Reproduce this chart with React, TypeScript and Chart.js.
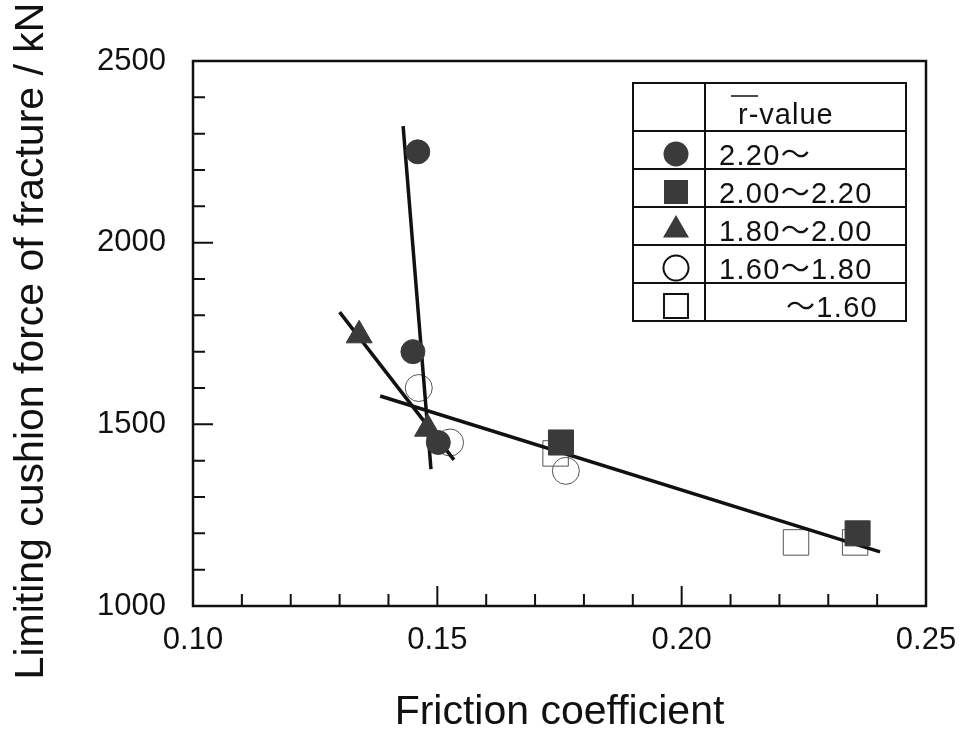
import React, { useEffect, useRef } from 'react';
import { Chart, registerables } from 'chart.js';

Chart.register(...registerables);

// ---- axes ----
const xMin = 0.10;
const xMax = 0.25;
const yMin = 1000;
const yMax = 2500;
const xTickValues = [0.10, 0.15, 0.20, 0.25];
const xTickLabels = ['0.10', '0.15', '0.20', '0.25'];
const yTickValues = [1000, 1500, 2000, 2500];
const yTickLabels = ['1000', '1500', '2000', '2500'];
const xMajorInner = [0.15, 0.20];
const xMinorInner = [0.11, 0.12, 0.13, 0.14, 0.16, 0.17, 0.18, 0.19, 0.21, 0.22, 0.23, 0.24];
const yMajorInner = [1500, 2000];
const yMinorInner = [1100, 1200, 1300, 1400, 1600, 1700, 1800, 1900, 2100, 2200, 2300, 2400];
const xTitle = 'Friction coefficient';
const yTitle = 'Limiting cushion force of fracture / kN';

// ---- data (r-value groups) ----
const filledCircleX = [0.146, 0.145, 0.1502];
const filledCircleY = [2250, 1700, 1450];
const filledSquareX = [0.1753, 0.236];
const filledSquareY = [1450, 1200];
const filledTriangleX = [0.134, 0.148];
const filledTriangleY = [1745, 1488];
const openCircleX = [0.1462, 0.1526, 0.1763];
const openCircleY = [1600, 1450, 1372];
const openSquareX = [0.1742, 0.2234, 0.2355];
const openSquareY = [1420, 1175, 1175];

// ---- fitted lines ----
const fitCircleX = [0.143, 0.1487];
const fitCircleY = [2321, 1377];
const fitTriangleX = [0.130, 0.1534];
const fitTriangleY = [1809, 1402];
const fitAllX = [0.1383, 0.2406];
const fitAllY = [1578, 1149];

// ---- legend ----
const legendHeader = 'r-value';
const legendLabels = ['2.20～', '2.00～2.20', '1.80～2.00', '1.60～1.80', '～1.60'];
const legendMarkers = ['filledCircle', 'filledSquare', 'filledTriangle', 'openCircle', 'openSquare'];

const FONT = "'Liberation Sans', Arial, Helvetica, 'Noto Sans CJK JP', sans-serif";
const DARK = '#3a3a3a';
const INK = '#111111';

const pts = (xs: number[], ys: number[]) => xs.map((x, i) => ({ x, y: ys[i] }));

function drawMarker(ctx: CanvasRenderingContext2D, kind: string, x: number, y: number) {
  ctx.save();
  ctx.beginPath();
  if (kind === 'filledCircle' || kind === 'openCircle') {
    ctx.arc(x, y, 12.5, 0, Math.PI * 2);
  } else if (kind === 'filledSquare' || kind === 'openSquare') {
    ctx.rect(x - 12, y - 12, 24, 24);
  } else {
    const r = 15;
    ctx.moveTo(x, y - r);
    ctx.lineTo(x + r * 0.866, y + r * 0.5);
    ctx.lineTo(x - r * 0.866, y + r * 0.5);
    ctx.closePath();
  }
  if (kind.startsWith('filled')) {
    ctx.fillStyle = DARK;
    ctx.fill();
  } else {
    ctx.lineWidth = 2;
    ctx.strokeStyle = INK;
    ctx.stroke();
  }
  ctx.restore();
}

const framePlugin = {
  id: 'frameAndLegend',
  afterDatasetsDraw(chart: any) {
    const { ctx, chartArea } = chart;
    const xs = chart.scales.x;
    const ys = chart.scales.y;
    const { left, right, top, bottom } = chartArea;
    ctx.save();
    ctx.strokeStyle = INK;
    ctx.lineWidth = 2.5;
    ctx.strokeRect(left, top, right - left, bottom - top);
    ctx.lineWidth = 2;
    ctx.beginPath();
    xMajorInner.forEach((v) => {
      const px = xs.getPixelForValue(v);
      ctx.moveTo(px, bottom);
      ctx.lineTo(px, bottom - 20);
    });
    xMinorInner.forEach((v) => {
      const px = xs.getPixelForValue(v);
      ctx.moveTo(px, bottom);
      ctx.lineTo(px, bottom - 12);
    });
    yMajorInner.forEach((v) => {
      const py = ys.getPixelForValue(v);
      ctx.moveTo(left, py);
      ctx.lineTo(left + 20, py);
    });
    yMinorInner.forEach((v) => {
      const py = ys.getPixelForValue(v);
      ctx.moveTo(left, py);
      ctx.lineTo(left + 12, py);
    });
    ctx.stroke();

    // y axis title
    ctx.save();
    ctx.translate(32, 341);
    ctx.rotate(-Math.PI / 2);
    ctx.font = `41px ${FONT}`;
    ctx.fillStyle = INK;
    ctx.textAlign = 'center';
    ctx.textBaseline = 'middle';
    ctx.fillText(yTitle, 0, 0);
    ctx.restore();

    // legend table
    const bx = 633, by = 83, bw = 273, headerH = 48, rowH = 38;
    const colX = 705;
    const bh = headerH + rowH * legendLabels.length;
    ctx.fillStyle = '#ffffff';
    ctx.fillRect(bx, by, bw, bh);
    ctx.lineWidth = 2;
    ctx.strokeStyle = INK;
    ctx.strokeRect(bx, by, bw, bh);
    ctx.beginPath();
    ctx.moveTo(colX, by);
    ctx.lineTo(colX, by + bh);
    for (let i = 0; i < legendLabels.length; i++) {
      const yy = by + headerH + rowH * i;
      ctx.moveTo(bx, yy);
      ctx.lineTo(bx + bw, yy);
    }
    ctx.stroke();

    ctx.fillStyle = INK;
    ctx.font = `29px ${FONT}`;
    (ctx as any).letterSpacing = '1px';
    ctx.textBaseline = 'alphabetic';
    ctx.textAlign = 'left';
    const hx = 738;
    ctx.fillText(legendHeader, hx, by + 41);
    ctx.beginPath();
    ctx.lineWidth = 1.5;
    ctx.moveTo(hx - 7, 96);
    ctx.lineTo(hx + 20, 96);
    ctx.stroke();

    const textRight = 878;
    (ctx as any).letterSpacing = '1.3px';
    legendLabels.forEach((lab, i) => {
      const rowTop = by + headerH + rowH * i;
      ctx.font = `29px ${FONT}`;
      ctx.fillStyle = INK;
      if (lab.startsWith('～')) {
        ctx.textAlign = 'right';
        ctx.fillText(lab, textRight, rowTop + 34);
      } else {
        ctx.textAlign = 'left';
        ctx.fillText(lab, 719, rowTop + 34);
      }
      drawMarker(ctx, legendMarkers[i], 676, rowTop + rowH / 2 + 4);
    });
    (ctx as any).letterSpacing = '0px';
    ctx.restore();
  },
};

export default function App() {
  const ref = useRef<HTMLCanvasElement>(null);
  useEffect(() => {
    const canvas = ref.current;
    if (!canvas) return;
    const lineDs = (xs: number[], ys: number[]) => ({
      data: pts(xs, ys),
      showLine: true,
      borderColor: INK,
      borderWidth: 3.5,
      pointRadius: 0,
      pointHoverRadius: 0,
      order: 1,
    });
    const chart = new Chart(canvas, {
      type: 'scatter',
      data: {
        datasets: [
          {
            data: pts(filledCircleX, filledCircleY),
            pointStyle: 'circle',
            pointRadius: 12,
            backgroundColor: DARK,
            borderColor: DARK,
            borderWidth: 1,
            order: 0,
          },
          {
            data: pts(filledSquareX, filledSquareY),
            pointStyle: 'rect',
            pointRadius: 17.7,
            backgroundColor: DARK,
            borderColor: DARK,
            borderWidth: 1,
            order: 0,
          },
          {
            data: pts(filledTriangleX, filledTriangleY),
            pointStyle: 'triangle',
            pointRadius: 15,
            backgroundColor: DARK,
            borderColor: DARK,
            borderWidth: 1,
            order: 0,
          },
          {
            data: pts(openCircleX, openCircleY),
            pointStyle: 'circle',
            pointRadius: 13.5,
            backgroundColor: 'rgba(0,0,0,0)',
            borderColor: '#555555',
            borderWidth: 1,
            order: 2,
          },
          {
            data: pts(openSquareX, openSquareY),
            pointStyle: 'rect',
            pointRadius: 18,
            backgroundColor: 'rgba(0,0,0,0)',
            borderColor: '#555555',
            borderWidth: 1,
            order: 2,
          },
          lineDs(fitCircleX, fitCircleY),
          lineDs(fitTriangleX, fitTriangleY),
          lineDs(fitAllX, fitAllY),
        ] as any,
      },
      options: {
        animation: false,
        responsive: true,
        maintainAspectRatio: false,
        layout: { padding: { top: 61, right: 33, left: 0, bottom: 0 } },
        plugins: {
          legend: { display: false },
          tooltip: { enabled: false },
        },
        events: [],
        scales: {
          x: {
            type: 'linear',
            min: xMin,
            max: xMax,
            afterFit: (s: any) => { s.height = 124; s.paddingRight = 0; s.paddingLeft = 0; },
            afterBuildTicks: (s: any) => { s.ticks = xTickValues.map((v) => ({ value: v })); },
            grid: { display: false, drawTicks: false },
            border: { display: false },
            ticks: {
              padding: 16,
              color: INK,
              font: { family: FONT, size: 31 },
              callback: (_v: any, i: number) => xTickLabels[i],
              maxRotation: 0,
            },
            title: {
              display: true,
              text: xTitle,
              color: INK,
              font: { family: FONT, size: 41, lineHeight: 0.85 },
              padding: 0,
            },
          },
          y: {
            type: 'linear',
            min: yMin,
            max: yMax,
            afterFit: (s: any) => { s.width = 193; s.paddingTop = 0; s.paddingBottom = 0; },
            afterBuildTicks: (s: any) => { s.ticks = yTickValues.map((v) => ({ value: v })); },
            grid: { display: false, drawTicks: false },
            border: { display: false },
            ticks: {
              padding: 27,
              color: INK,
              font: { family: FONT, size: 31 },
              callback: (_v: any, i: number) => yTickLabels[i],
            },
            title: { display: false, text: yTitle },
          },
        },
      } as any,
      plugins: [framePlugin],
    });
    return () => chart.destroy();
  }, []);
  return (
    <div style={{ position: 'fixed', left: 0, top: 0, width: 959, height: 730, background: '#ffffff' }}>
      <canvas ref={ref} />
    </div>
  );
}
